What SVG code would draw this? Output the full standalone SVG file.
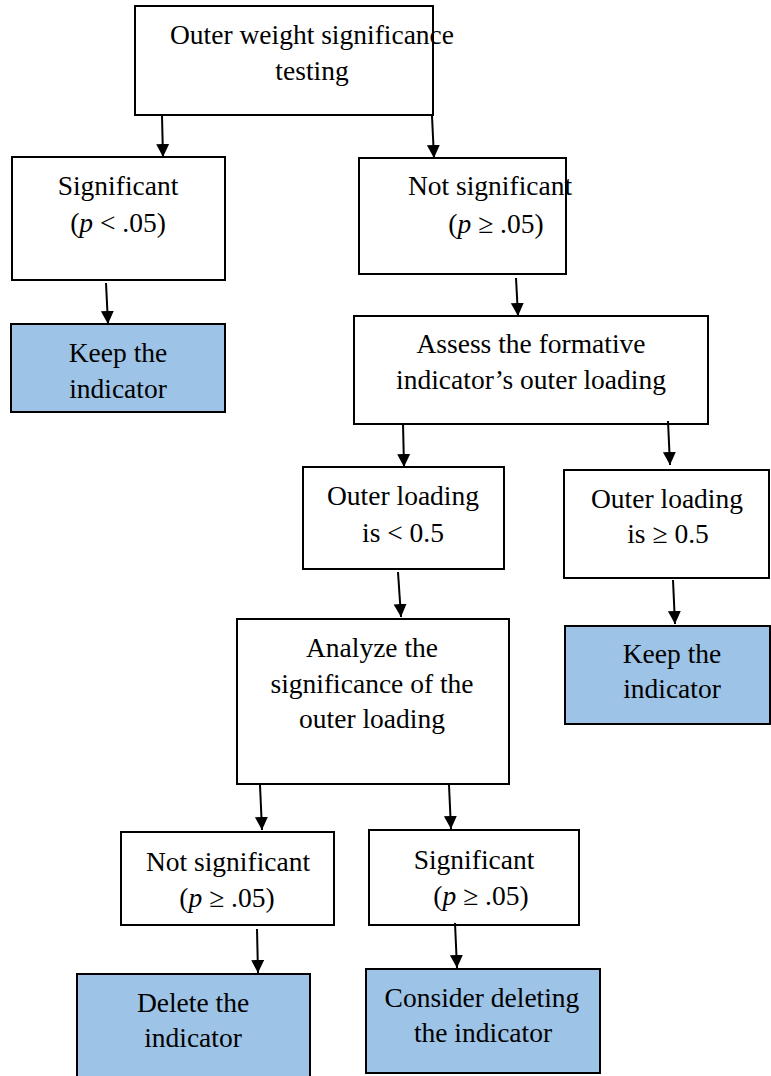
<svg xmlns="http://www.w3.org/2000/svg" width="771" height="1076" viewBox="0 0 771 1076" font-family="'Liberation Serif', 'Times New Roman', serif">
<style>
.box{fill:#ffffff;stroke:#000000;stroke-width:2}
.blue{fill:#9DC3E6;stroke:#000000;stroke-width:2}
text{font-family:'Liberation Serif','Times New Roman',serif;font-size:27.5px;fill:#000000;text-anchor:middle}
.conn line{stroke:#000000;stroke-width:2;marker-end:url(#arr)}
</style>
<defs>
<marker id="arr" markerUnits="userSpaceOnUse" markerWidth="14" markerHeight="14" refX="13" refY="6.5" orient="auto">
<path d="M0,0 L13,6.5 L0,13 Z" fill="#000000"/>
</marker>
</defs>
<rect width="771" height="1076" fill="#ffffff"/>
<g id="n1"><rect class="box" x="135" y="6" width="298" height="109"/><text x="312" y="44">Outer weight significance</text><text x="312" y="80">testing</text></g>
<g id="n2"><rect class="box" x="12" y="157" width="213" height="123"/><text x="118" y="195">Significant</text><text x="118" y="232">(<tspan font-style="italic">p</tspan> &lt; .05)</text></g>
<g id="n3"><rect class="box" x="359" y="158" width="207" height="116"/><text x="490" y="195">Not significant</text><text x="496" y="233">(<tspan font-style="italic">p</tspan> ≥ .05)</text></g>
<g id="n4"><rect class="blue" x="11" y="324" width="214" height="88"/><text x="118" y="362">Keep the</text><text x="118" y="398">indicator</text></g>
<g id="n5"><rect class="box" x="354" y="316" width="354" height="108"/><text x="531" y="353">Assess the formative</text><text x="531" y="389">indicator’s outer loading</text></g>
<g id="n6"><rect class="box" x="303" y="467" width="201" height="102"/><text x="403" y="505">Outer loading</text><text x="403" y="542">is &lt; 0.5</text></g>
<g id="n7"><rect class="box" x="564" y="470" width="205" height="108"/><text x="667" y="508">Outer loading</text><text x="668" y="543">is ≥ 0.5</text></g>
<g id="n8"><rect class="blue" x="565" y="626" width="205" height="98"/><text x="672" y="663">Keep the</text><text x="672" y="698">indicator</text></g>
<g id="n9"><rect class="box" x="237" y="619" width="272" height="165"/><text x="372" y="657">Analyze the</text><text x="372" y="693">significance of the</text><text x="372" y="728">outer loading</text></g>
<g id="n10"><rect class="box" x="121" y="832" width="213" height="93"/><text x="228" y="871">Not significant</text><text x="227" y="907">(<tspan font-style="italic">p</tspan> ≥ .05)</text></g>
<g id="n11"><rect class="box" x="369" y="830" width="210" height="95"/><text x="474" y="869">Significant</text><text x="481" y="905">(<tspan font-style="italic">p</tspan> ≥ .05)</text></g>
<g id="n12"><rect class="blue" x="77" y="974" width="233" height="110"/><text x="193" y="1012">Delete the</text><text x="193" y="1047">indicator</text></g>
<g id="n13"><rect class="blue" x="366" y="969" width="234" height="104"/><text x="482" y="1007">Consider deleting</text><text x="483" y="1042">the indicator</text></g>
<g class="conn" id="connectors">
<line x1="162" y1="116" x2="163" y2="157"/>
<line x1="432" y1="116" x2="434" y2="158"/>
<line x1="106" y1="283" x2="108" y2="324"/>
<line x1="516" y1="278" x2="518" y2="316"/>
<line x1="403" y1="423" x2="404" y2="467"/>
<line x1="668" y1="421" x2="670" y2="465"/>
<line x1="398" y1="572" x2="401" y2="617"/>
<line x1="673" y1="580" x2="675" y2="624"/>
<line x1="260" y1="785" x2="262" y2="830"/>
<line x1="449" y1="785" x2="451" y2="829"/>
<line x1="257" y1="929" x2="258" y2="973"/>
<line x1="455" y1="923" x2="457" y2="968"/>
</g>
</svg>
